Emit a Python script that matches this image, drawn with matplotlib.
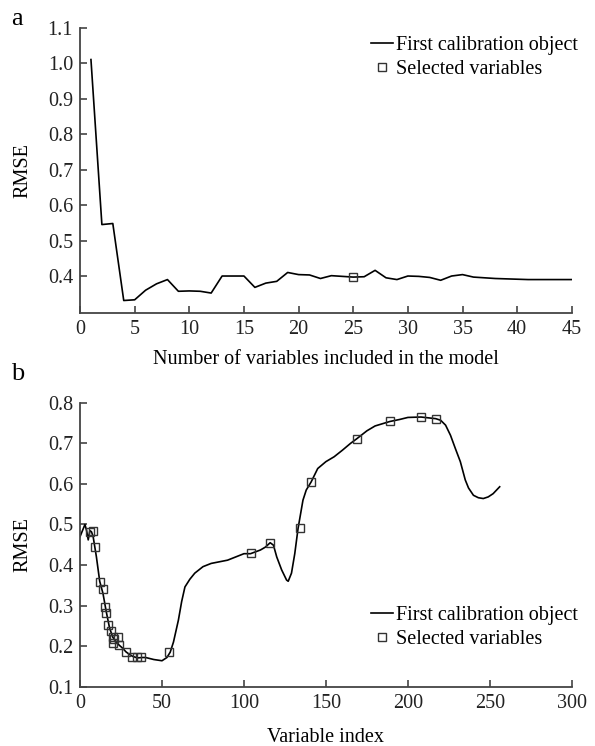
import matplotlib
matplotlib.use("Agg")
import matplotlib.pyplot as plt

# panel a: RMSE vs number of variables in the model
n_vars = list(range(1, 46))
rmse_a = [1.01, 0.545, 0.548, 0.331, 0.333, 0.360, 0.378, 0.390, 0.357, 0.358,
          0.357, 0.352, 0.400, 0.400, 0.400, 0.368, 0.380, 0.385, 0.410, 0.404,
          0.403, 0.393, 0.401, 0.399, 0.397, 0.398, 0.416, 0.395, 0.390, 0.400,
          0.399, 0.396, 0.388, 0.400, 0.404, 0.397, 0.395, 0.393, 0.392, 0.391,
          0.390, 0.390, 0.390, 0.390, 0.390]
sel_a_x = [25]
sel_a_y = [0.397]

# panel b: RMSE vs variable index
var_idx = [0, 2, 3, 4, 5, 6, 7, 8, 10, 12, 14, 16, 18, 20, 22, 24, 26, 28, 30,
           32, 35, 38, 40, 45, 50, 53, 55, 57, 60, 62, 64, 67, 70, 75, 80, 85,
           90, 95, 100, 104, 110, 113, 116, 118, 120, 123, 126, 127, 129, 131,
           133, 136, 138, 141, 145, 150, 155, 160, 165, 169, 175, 180, 189, 195,
           200, 208, 217, 220, 223, 226, 229, 232, 235, 237, 240, 243, 246, 249,
           252, 256]
rmse_b = [0.470, 0.490, 0.500, 0.485, 0.462, 0.485, 0.482, 0.470, 0.420, 0.360,
          0.330, 0.285, 0.245, 0.222, 0.210, 0.202, 0.195, 0.186, 0.180,
          0.175, 0.171, 0.172, 0.172, 0.167, 0.164, 0.172, 0.185, 0.210, 0.264,
          0.310, 0.346, 0.365, 0.380, 0.396, 0.404, 0.408,
          0.412, 0.420, 0.428, 0.428, 0.437, 0.444, 0.455, 0.449, 0.420, 0.388,
          0.363, 0.360, 0.380, 0.428,
          0.490, 0.560, 0.585, 0.605, 0.638, 0.655, 0.667, 0.683, 0.700, 0.712,
          0.731, 0.743, 0.754, 0.759,
          0.764, 0.765, 0.761, 0.757, 0.745, 0.720, 0.687, 0.655, 0.610, 0.590,
          0.572, 0.566, 0.564, 0.568, 0.576, 0.593]
sel_b_x = [6, 8, 9, 12, 14, 15, 16, 17, 19, 20, 21, 23, 20, 24, 28, 32, 35, 37,
           54, 104, 116, 134, 141, 169, 189, 208, 217]
sel_b_y = [0.482, 0.484, 0.445, 0.357, 0.341, 0.297, 0.282, 0.252, 0.238, 0.223,
           0.217, 0.223, 0.208, 0.203, 0.185, 0.174, 0.172, 0.174,
           0.185, 0.429, 0.455, 0.492, 0.605, 0.712, 0.754, 0.765, 0.761]

plt.rcParams["font.family"] = ["Liberation Serif", "DejaVu Serif"]
fs = 14.5

fig = plt.figure(figsize=(5.95, 7.46), dpi=100)
ax1 = fig.add_axes([0.1345, 0.581, 0.8265, 0.382])
ax2 = fig.add_axes([0.1345, 0.0795, 0.8265, 0.3805])

spine_col = "#444444"
for ax in (ax1, ax2):
    ax.spines["top"].set_visible(False)
    ax.spines["right"].set_visible(False)
    for s in ("left", "bottom"):
        ax.spines[s].set_color(spine_col)
        ax.spines[s].set_linewidth(1.3)
    ax.tick_params(direction="in", length=5, width=1.2, color=spine_col,
                   labelsize=fs, pad=5, labelcolor="#222222")

leg_kw = dict(frameon=False, fontsize=fs, handlelength=1.1, handletextpad=0.15,
              labelspacing=0.25, markerscale=0.85)

# panel a
ax1.plot(n_vars, rmse_a, color="black", lw=1.2, label="First calibration object")
ax1.plot(sel_a_x, sel_a_y, ls="none", marker="s", mfc="none", mec="#333333",
         ms=6, mew=1.0, label="Selected variables")
ax1.set_xlim(0, 45)
ax1.set_ylim(0.297, 1.1)
ax1.set_xticks(range(0, 46, 5))
ax1.set_yticks([0.4, 0.5, 0.6, 0.7, 0.8, 0.9, 1.0, 1.1])
ax1.set_yticklabels(["0.4", "0.5", "0.6", "0.7", "0.8", "0.9", "1.0", "1.1"])
ax1.set_xlabel("Number of variables included in the model", fontsize=fs, labelpad=8)
ax1.set_ylabel("RMSE", fontsize=fs, labelpad=11)
ax1.legend(loc="upper right", bbox_to_anchor=(1.05, 1.035), **leg_kw)

# panel b
ax2.plot(var_idx, rmse_b, color="black", lw=1.2, label="First calibration object")
ax2.plot(sel_b_x, sel_b_y, ls="none", marker="s", mfc="none", mec="#333333",
         ms=6, mew=1.0, label="Selected variables")
ax2.set_xlim(0, 300)
ax2.set_ylim(0.1, 0.8)
ax2.set_xticks(range(0, 301, 50))
ax2.set_yticks([0.1, 0.2, 0.3, 0.4, 0.5, 0.6, 0.7, 0.8])
ax2.set_xlabel("Variable index", fontsize=fs, labelpad=11)
ax2.set_ylabel("RMSE", fontsize=fs, labelpad=11)
ax2.legend(loc="lower right", bbox_to_anchor=(1.05, 0.07), **leg_kw)

fig.text(0.018, 0.975, "a", fontsize=19, va="center")
fig.text(0.018, 0.498, "b", fontsize=19, va="center")

fig.savefig("out.png", dpi=100)
